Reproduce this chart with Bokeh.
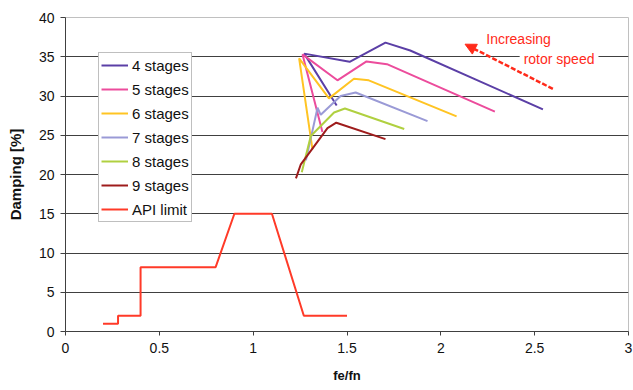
from bokeh.plotting import figure
from bokeh.models import (Range1d, FixedTicker, NumeralTickFormatter, Label,
                          Arrow, NormalHead)
from bokeh.embed import file_html
from bokeh.resources import INLINE

FONT = "Liberation Sans"

# ---- data ----
api_x = [0.2, 0.28, 0.28, 0.4, 0.4, 0.8, 0.9, 1.1, 1.27, 1.5]
api_y = [1, 1, 2, 2, 8.2, 8.2, 15, 15, 2, 2]

s4_x = [1.445, 1.272, 1.514, 1.705, 1.837, 2.544]
s4_y = [28.8, 35.4, 34.35, 36.8, 35.8, 28.3]
s5_x = [1.369, 1.263, 1.449, 1.604, 1.713, 2.288]
s5_y = [25.4, 35.3, 32.0, 34.4, 34.05, 28.0]
s6_x = [1.316, 1.245, 1.404, 1.537, 1.616, 2.084]
s6_y = [23.2, 34.8, 29.7, 32.2, 32.0, 27.4]
s7_x = [1.281, 1.343, 1.360, 1.466, 1.546, 1.929]
s7_y = [21.8, 28.5, 27.6, 30.0, 30.45, 26.8]
s8_x = [1.259, 1.307, 1.431, 1.489, 1.805]
s8_y = [20.3, 24.9, 27.9, 28.4, 25.8]
s9_x = [1.228, 1.254, 1.396, 1.443, 1.705]
s9_y = [19.5, 21.3, 25.9, 26.6, 24.5]

labels = ["4 stages", "5 stages", "6 stages", "7 stages", "8 stages", "9 stages", "API limit"]
colors = ["#5b3fa6", "#ec4c9c", "#ffc423", "#9a9ad6", "#b0d040", "#9e1c1c", "#ff3a28"]

x_ticks = [0, 0.5, 1, 1.5, 2, 2.5, 3]
y_ticks = [0, 5, 10, 15, 20, 25, 30, 35, 40]

arrow_tail = (2.597, 30.9)
arrow_head = (2.129, 36.6)
note1 = "Increasing"
note1_pos = (2.242, 37.3)
note2 = "rotor speed"
note2_pos = (2.42, 34.7)

p = figure(width=633, height=390, output_backend="svg", toolbar_location=None,
           x_range=Range1d(0, 3), y_range=Range1d(0, 40),
           min_border_left=65, min_border_right=5, min_border_top=17, min_border_bottom=59)

p.background_fill_color = "white"
p.border_fill_color = "white"
p.outline_line_color = "#c0c0c0"
p.outline_line_width = 1

# grid
p.xgrid.visible = False
p.ygrid.ticker = FixedTicker(ticks=[5, 10, 15, 20, 25, 30, 35])
p.ygrid.grid_line_color = "#404040"
p.ygrid.grid_line_width = 1

# axes
p.xaxis.ticker = FixedTicker(ticks=x_ticks)
p.xaxis.formatter = NumeralTickFormatter(format="0.[0]")
p.yaxis.ticker = FixedTicker(ticks=y_ticks)
for ax in (p.xaxis[0], p.yaxis[0]):
    ax.axis_line_color = "#404040"
    ax.major_tick_line_color = "#404040"
    ax.minor_tick_line_color = None
    ax.major_tick_in = 0
    ax.major_label_text_font = FONT
    ax.major_label_text_font_size = "14px"
    ax.major_label_text_color = "#111111"
    ax.axis_label_text_font = FONT
    ax.axis_label_text_font_style = "bold"
    ax.axis_label_text_color = "#111111"
p.xaxis.major_tick_out = 4
p.yaxis.major_tick_out = 5
p.xaxis.major_label_standoff = 7
p.yaxis.major_label_standoff = 6
p.xaxis.axis_label = "fe/fn"
p.yaxis.axis_label = "Damping [%]"
p.xaxis.axis_label_text_font_size = "13px"
p.yaxis.axis_label_text_font_size = "15px"
p.xaxis.axis_label_standoff = 12
p.yaxis.axis_label_standoff = 12

series = [(s4_x, s4_y), (s5_x, s5_y), (s6_x, s6_y), (s7_x, s7_y),
          (s8_x, s8_y), (s9_x, s9_y), (api_x, api_y)]
for (xs, ys), lab, col in zip(series, labels, colors):
    p.line(xs, ys, line_color=col, line_width=2, legend_label=lab)

# legend
lg = p.legend[0]
lg.location = (33, 109)
lg.margin = 0
lg.padding = 2
lg.spacing = 4
lg.label_height = 20
lg.glyph_height = 20
lg.glyph_width = 27
lg.label_standoff = 4
lg.label_text_font = FONT
lg.label_text_font_size = "15px"
lg.label_text_color = "#111111"
lg.border_line_color = "#808080"
lg.border_line_width = 1
lg.background_fill_color = "white"
lg.background_fill_alpha = 1.0

# annotation arrow + texts
p.add_layout(Arrow(x_start=arrow_tail[0], y_start=arrow_tail[1],
                   x_end=arrow_head[0], y_end=arrow_head[1],
                   line_color="#ff2a1a", line_width=2.5, line_dash="5 2",
                   end=NormalHead(size=11, fill_color="#ff2a1a", line_color="#ff2a1a")))
p.add_layout(Label(x=note1_pos[0], y=note1_pos[1], text=note1, text_font=FONT,
                   text_font_size="14px", text_color="#ff2a1a", text_baseline="middle"))
p.add_layout(Label(x=note2_pos[0], y=note2_pos[1], text=note2, text_font=FONT,
                   text_font_size="14px", text_color="#ff2a1a", text_baseline="middle",
                   background_fill_color="white", padding=4))

open("out.html", "w").write(file_html(p, INLINE))
